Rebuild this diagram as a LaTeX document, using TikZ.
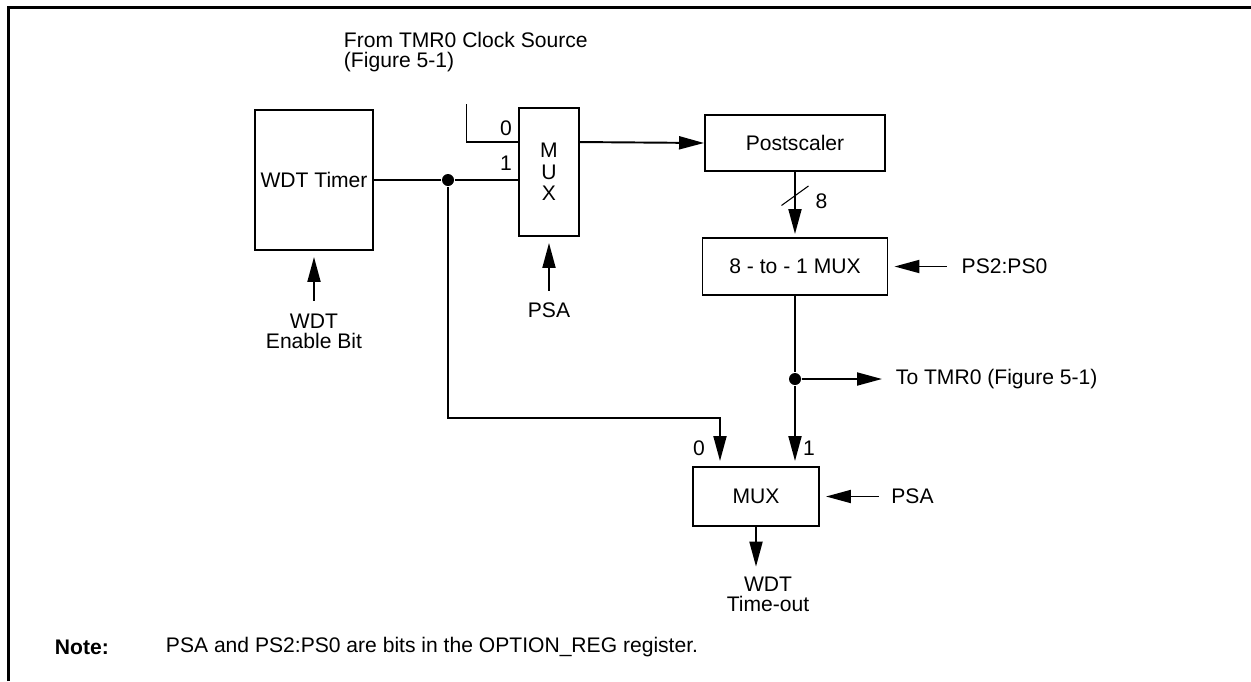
\documentclass[tikz,border=0pt]{standalone}
\usepackage{fontspec}
\setmainfont{Liberation Sans}
\usetikzlibrary{arrows.meta,positioning,calc}

\begin{document}
\begin{tikzpicture}[node distance=3cm, auto, >={Triangle[length=0.5cm,width=0.26cm]},
        line width=1.1pt, font=\fontsize{12}{11.4}\selectfont,
        block/.style={draw, rectangle, inner sep=0pt},
        txt/.style={inner sep=0pt, align=center},
        sig/.style={->, shorten >=0.12cm},
        junc/.style={circle, fill, inner sep=0pt, minimum size=0.24cm}]
        \useasboundingbox (0,0) rectangle (25.02,-13.62);
        \draw[line width=1.3pt] (0.17,-13.62) -- (0.17,-0.15) -- (25.02,-0.15);

        % blocks
        \node (wdt) [block, minimum width=2.36cm, minimum height=2.8cm] at (6.28,-3.6) {WDT Timer};
        \node (muxa) [block, minimum width=1.2cm, minimum height=2.56cm, node distance=4.7cm, right of=wdt, yshift=0.16cm, align=center, font=\fontsize{12}{12.3}\selectfont] {M\\U\\X};
        \node (post) [block, minimum width=3.6cm, minimum height=1.12cm, node distance=4.92cm, right of=muxa, yshift=0.58cm] {Postscaler};
        \node (selmux) [block, minimum width=3.7cm, minimum height=1.14cm, node distance=2.47cm, below of=post] {8 - to - 1 MUX};
        \node (muxb) [block, minimum width=2.52cm, minimum height=1.18cm, node distance=4.6cm, below of=selmux, xshift=-0.78cm] {MUX};

        % inputs and outputs
        \node (src) [txt, align=left, anchor=west] at (6.86,-1.04) {From TMR0 Clock Source\\(Figure 5-1)};
        \node (wden) [txt, inner ysep=0.25cm, node distance=3.03cm, below of=wdt] {WDT\\Enable Bit};
        \node (psa1) [txt, inner ysep=0.22cm, node distance=2.76cm, below of=muxa] {PSA};
        \node (pssel) [txt, inner xsep=0.28cm, node distance=4.19cm, right of=selmux] {PS2:PS0};
        \node (psa2) [txt, inner xsep=0.23cm, node distance=3.13cm, right of=muxb] {PSA};
        \node (tout) [txt, inner ysep=0.18cm, node distance=1.95cm, below of=muxb, xshift=0.24cm] {WDT\\Time-out};
        \node (jw) [junc] at (8.96,-3.6) {};
        \node (jt) [junc, node distance=2.25cm, below of=selmux] {};
        \node (totmr) [txt, anchor=west, inner xsep=0.26cm] at (17.64,-7.58) {To TMR0 (Figure 5-1)};
        \coordinate (srcin) at (9.33,-2.08);
        \coordinate (in0) at ($(muxa.north west)+(0,-0.7)$);
        \coordinate (bend) at (14.4,-8.36);

        % pin labels
        \node (la0) [txt] at (10.12,-2.56) {0};
        \node (la1) [txt] at (10.12,-3.26) {1};
        \node (lb0) [txt] at (13.98,-8.97) {0};
        \node (lb1) [txt] at (16.18,-8.97) {1};
        \node (w8) [txt] at (16.43,-4.02) {8};

        % connections
        \draw (srcin) |- (in0);
        \draw (wdt) -- (jw) -- (jw -| muxa.west);
        \draw[->] (in0 -| muxa.east) -- (post.west);
        \draw[->, shorten >=0.06cm] (post) -- (selmux);
        \draw[line width=0.6pt] ($(post.south)+(-0.27,-0.67)$) -- ++(0.54,0.39);
        \draw[sig] (wden) -- (wdt);
        \draw[sig] (psa1) -- (muxa);
        \draw[sig] (pssel) -- (selmux);
        \draw (selmux) -- (jt);
        \draw[->] (jt) -- (totmr.west);
        \draw[sig, shorten >=0.1cm] (jt) -- (jt |- muxb.north);
        \draw[sig, shorten >=0.1cm] (jw) |- (bend) -- (bend |- muxb.north);
        \draw[sig] (psa2) -- (muxb);
        \draw[->] (muxb.south) -- (muxb.south |- tout.north);

        % note
        \node (note) [txt, anchor=west, font=\fontsize{12}{11.4}\selectfont\bfseries] at (1.08,-12.95) {Note:};
        \node (notetxt) [txt, anchor=west] at (3.3,-12.95) {PSA and PS2:PS0 are bits in the OPTION\_REG register.};
    \end{tikzpicture}
\end{document}
